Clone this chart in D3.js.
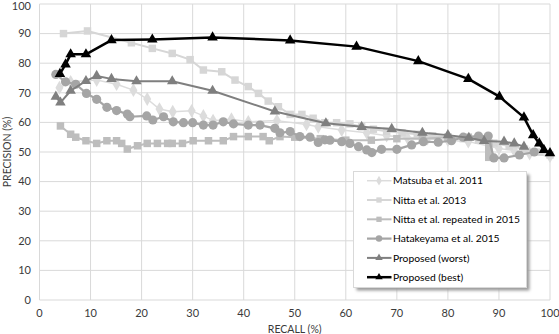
<!DOCTYPE html>
<html>
<head>
<meta charset="utf-8">
<script src="https://cdn.jsdelivr.net/npm/d3@7"></script>
<style>
    body { margin: 0; background: #fff; }
    text { font-family: Lato, "Open Sans", sans-serif; }
</style>
</head>
<body>
<svg id="chart" width="559" height="334"></svg>
<script>

// axis ticks
let xTicks = [0, 10, 20, 30, 40, 50, 60, 70, 80, 90, 100];
let yTicks = [0, 10, 20, 30, 40, 50, 60, 70, 80, 90, 100];

// series (recall, precision)
let matsubaRecall = [3.9, 6.1, 11.2, 15.1, 18.4, 21.1, 23.5, 26.1, 29.8, 32.1, 34, 37.6, 40.9, 46.5, 52.3, 54.6, 59.2, 64.1, 68, 72, 76, 80, 84, 88, 90, 93, 96, 100];
let matsubaPrecision = [71.7, 73.7, 74.3, 72.9, 70.9, 67.9, 64.5, 63.6, 63.9, 62.2, 60.6, 61.1, 60.2, 60.6, 59.3, 58.5, 57.4, 56.5, 55.5, 55, 54.5, 54, 53.5, 52, 51.2, 50.5, 49.5, 48.6];

let nittaRecall = [4.7, 9.4, 18, 22.1, 26, 29.5, 32.1, 35.7, 38.3, 40.9, 42.9, 44.8, 46.8, 49.1, 51.4, 53.6, 55.9, 58.2, 60.8, 63.1, 65.4, 68, 71, 74, 77, 80, 83, 86, 89, 92, 95, 98, 100];
let nittaPrecision = [90, 90.9, 86.9, 85, 83.3, 81.2, 77.7, 77.1, 74.3, 72.1, 69.8, 67.2, 65.3, 62.7, 62.7, 61.4, 59.9, 59.9, 59.5, 58.5, 57.7, 57, 56.5, 56, 55.5, 55, 54.5, 54, 53, 52, 51, 50, 49];

let nittaRepRecall = [4.1, 6.1, 7.1, 9.1, 11.2, 13.2, 15.1, 16.1, 17.2, 19.2, 21.1, 23.1, 25.1, 26, 28, 30.1, 33.1, 36, 38, 40.9, 43.8, 45, 47.1, 50, 55, 60, 65, 70, 75, 80, 84, 87, 88, 88, 88, 88];
let nittaRepPrecision = [58.8, 56, 55, 53.8, 52.9, 53.8, 53.8, 52.9, 51, 52.1, 52.9, 52.9, 52.9, 52.9, 52.9, 53.8, 53.8, 53.8, 55.2, 55.2, 55.2, 53.8, 55.2, 55, 54.5, 54, 54, 54.5, 54.5, 55, 55, 54, 53, 51.5, 50, 48.2];

let hataRecall = [3.2, 5.1, 7.1, 9.2, 11.2, 13.2, 15.1, 17.2, 17.7, 21, 22.2, 24.3, 26.2, 28.2, 30, 32.1, 34, 36, 38, 40.9, 43.2, 46.1, 47.1, 49.1, 51, 53, 54.6, 55.9, 56.9, 59.2, 60.8, 62.5, 64.1, 65.1, 67, 70, 72.9, 75.2, 78.1, 80.7, 83, 86, 87.9, 89, 91, 94, 96.9];
let hataPrecision = [76.2, 73.7, 72.9, 69.8, 67.8, 65.1, 64, 62.8, 61.9, 62.2, 60.8, 61.9, 60.2, 59.9, 59.9, 59.1, 59.1, 60.2, 59.5, 59.1, 59.1, 58, 56.5, 56.9, 55.2, 55, 53.2, 54.1, 54, 53.5, 52.9, 51.8, 50.7, 49.8, 50.9, 50.9, 52.4, 53.5, 53.3, 53.8, 55, 55.4, 55.4, 48, 48, 49, 50];

let worstRecall = [3.2, 4.1, 6.1, 9.1, 11.2, 14.1, 19, 26, 33.9, 46.1, 56.1, 63.1, 69, 75, 80, 84.1, 87.1, 91, 93, 94.9];
let worstPrecision = [68.7, 66.7, 70.7, 74, 75.7, 74.7, 73.9, 73.9, 70.7, 63.7, 59.7, 58.5, 57.8, 56.5, 55.7, 54.8, 53.7, 53.5, 52.9, 51.8];

let bestRecall = [4, 5.1, 6.1, 9.1, 14.1, 22.1, 33.9, 49.1, 62.1, 74.2, 84, 90.1, 94.9, 96.7, 97.9, 98.8, 100];
let bestPrecision = [76.4, 79.6, 83, 83, 87.8, 88, 88.7, 87.7, 85.6, 80.7, 74.7, 68.7, 61.7, 55.7, 52.9, 50.7, 49.6];

let seriesNames = ['Matsuba et al. 2011', 'Nitta et al. 2013', 'Nitta et al. repeated in 2015',
    'Hatakeyama et al. 2015', 'Proposed (worst)', 'Proposed (best)'];

let series = [
    {name: seriesNames[0], x: matsubaRecall, y: matsubaPrecision, color: '#dcdcdc', width: 1.5, symbol: d3.symbolDiamond, size: 55},
    {name: seriesNames[1], x: nittaRecall, y: nittaPrecision, color: '#d6d6d6', width: 2, symbol: d3.symbolSquare, size: 56},
    {name: seriesNames[2], x: nittaRepRecall, y: nittaRepPrecision, color: '#bdbdbd', width: 2, symbol: d3.symbolSquare, size: 56},
    {name: seriesNames[3], x: hataRecall, y: hataPrecision, color: '#a5a5a5', width: 2.2, symbol: d3.symbolCircle, size: 66},
    {name: seriesNames[4], x: worstRecall, y: worstPrecision, color: '#7f7f7f', width: 2, symbol: d3.symbolTriangle, size: 48},
    {name: seriesNames[5], x: bestRecall, y: bestPrecision, color: '#000000', width: 2.5, symbol: d3.symbolTriangle, size: 48}
];

let svg = d3.select('#chart');

let xScale = d3.scaleLinear().domain([0, 100]).range([39.5, 550]);
let yScale = d3.scaleLinear().domain([0, 100]).range([300, 4]);

// grid
svg.append('g')
    .selectAll('line')
    .data(xTicks)
    .join('line')
    .attr('x1', d => xScale(d)).attr('x2', d => xScale(d))
    .attr('y1', yScale(0)).attr('y2', yScale(100))
    .attr('stroke', '#d9d9d9').attr('stroke-width', 1);

svg.append('g')
    .selectAll('line')
    .data(yTicks)
    .join('line')
    .attr('x1', xScale(0)).attr('x2', xScale(100))
    .attr('y1', d => yScale(d)).attr('y2', d => yScale(d))
    .attr('stroke', '#d9d9d9').attr('stroke-width', 1);

// tick labels (top one nudged down so it stays inside the frame)
svg.append('g')
    .selectAll('text')
    .data(yTicks)
    .join('text')
    .attr('x', 31)
    .attr('y', d => Math.max(yScale(d), 6))
    .attr('dy', '0.35em')
    .attr('text-anchor', 'end')
    .attr('font-size', 11)
    .attr('fill', '#3a3a3a')
    .text(d => d);

svg.append('g')
    .selectAll('text')
    .data(xTicks)
    .join('text')
    .attr('x', d => xScale(d))
    .attr('y', 313)
    .attr('dy', '0.35em')
    .attr('text-anchor', 'middle')
    .attr('font-size', 11)
    .attr('fill', '#3a3a3a')
    .text(d => d);

// axis titles
svg.append('text')
    .attr('x', xScale(50))
    .attr('y', 329)
    .attr('dy', '0.35em')
    .attr('text-anchor', 'middle')
    .attr('font-size', 10.5)
    .attr('fill', '#3a3a3a')
    .text('RECALL (%)');

svg.append('text')
    .attr('transform', 'translate(7,' + yScale(50) + ') rotate(-90)')
    .attr('dy', '0.35em')
    .attr('text-anchor', 'middle')
    .attr('font-size', 10.5)
    .attr('fill', '#3a3a3a')
    .text('PRECISION (%)');

// lines + markers
let line = d3.line().x(d => xScale(d[0])).y(d => yScale(d[1]));

series.forEach(s => {
    let pts = s.x.map((v, i) => [v, s.y[i]]);
    let g = svg.append('g');
    g.append('path')
        .datum(pts)
        .attr('d', line)
        .attr('fill', 'none')
        .attr('stroke', s.color)
        .attr('stroke-width', s.width)
        .attr('stroke-linejoin', 'round');
    g.selectAll('path.mark')
        .data(pts)
        .join('path')
        .attr('class', 'mark')
        .attr('d', d3.symbol().type(s.symbol).size(s.size))
        .attr('transform', d => 'translate(' + xScale(d[0]) + ',' + yScale(d[1]) + ')')
        .attr('fill', s.color);
});

// legend
let lx = 353.5, ly = 171.5, lw = 173, lh = 116;
let defs = svg.append('defs');
let f = defs.append('filter').attr('id', 'shadow').attr('x', '-10%').attr('y', '-10%').attr('width', '130%').attr('height', '130%');
f.append('feGaussianBlur').attr('stdDeviation', 1.8);

svg.append('rect')
    .attr('x', lx + 3).attr('y', ly + 3)
    .attr('width', lw).attr('height', lh)
    .attr('fill', '#9a9a9a')
    .attr('filter', 'url(#shadow)');

svg.append('rect')
    .attr('x', lx).attr('y', ly)
    .attr('width', lw).attr('height', lh)
    .attr('fill', '#fff')
    .attr('stroke', '#d9d9d9');

let legendRows = svg.append('g')
    .selectAll('g')
    .data(series)
    .join('g')
    .attr('transform', (d, i) => 'translate(0,' + (180.7 + i * 19.3) + ')');

legendRows.append('line')
    .attr('x1', 367).attr('x2', 391.5)
    .attr('stroke', d => d.color)
    .attr('stroke-width', d => d.width);

legendRows.append('path')
    .attr('d', d => d3.symbol().type(d.symbol).size(d.size * 0.5)())
    .attr('transform', 'translate(379,0)')
    .attr('fill', d => d.color);

legendRows.append('text')
    .attr('x', 393)
    .attr('dy', '0.35em')
    .attr('font-size', 10.3)
    .attr('fill', '#000')
    .text(d => d.name);

</script>
</body>
</html>
